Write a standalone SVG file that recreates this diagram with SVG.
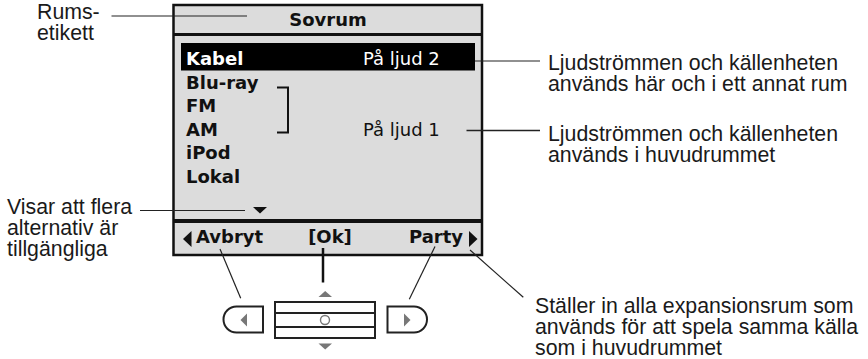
<svg xmlns="http://www.w3.org/2000/svg" width="868" height="359" viewBox="0 0 868 359">
<style>
.lbl{font-family:"Liberation Sans",Arial,sans-serif;font-size:21.3px;fill:#1a1a1a}
.scr{font-family:"DejaVu Sans",Verdana,sans-serif;font-size:18px;fill:#111}
.b{font-weight:bold}
.ln{stroke:#222;stroke-width:1.2;fill:none}
.btn{stroke:#222;stroke-width:2;fill:#fff}
.gt{fill:#777}
</style>
<rect width="868" height="359" fill="#fff"/>
<g id="screen">
<rect x="173.5" y="5" width="308.5" height="250" fill="#dcdcdc" stroke="#111" stroke-width="2.5"/>
<line x1="173.5" y1="34.5" x2="482" y2="34.5" stroke="#111" stroke-width="3"/>
<line x1="173.5" y1="221" x2="482" y2="221" stroke="#111" stroke-width="4"/>
<text class="scr b" x="328" y="26" text-anchor="middle">Sovrum</text>
<rect x="181" y="43" width="294" height="27.5" fill="#000"/>
<text class="scr b" x="186" y="65" style="fill:#fff">Kabel</text>
<text class="scr" x="363" y="65" style="fill:#fff">På ljud 2</text>
<text class="scr b" x="186" y="89">Blu-ray</text>
<text class="scr b" x="186" y="112">FM</text>
<text class="scr b" x="186" y="136">AM</text>
<text class="scr" x="363" y="136">På ljud 1</text>
<text class="scr b" x="186" y="159">iPod</text>
<text class="scr b" x="186" y="183">Lokal</text>
<path d="M277 87.5H288V132.5H277" fill="none" stroke="#111" stroke-width="2"/>
<path d="M253 207H267L260 213.5Z" fill="#111"/>
<path d="M183 239L191.5 231V247Z" fill="#111"/>
<text class="scr b" x="196" y="243">Avbryt</text>
<text class="scr b" x="330" y="243" text-anchor="middle">[Ok]</text>
<text class="scr b" x="463" y="243" text-anchor="end">Party</text>
<path d="M477.5 239L469 231V247Z" fill="#111"/>
</g>
<g id="btn-left">
<path class="btn" d="M263 306.5H236.5A13 13 0 0 0 236.5 332.5H263Z"/>
<path class="gt" d="M240.5 320L247 313.5V326.5Z"/>
</g>
<g id="btn-center">
<rect class="btn" x="275" y="302" width="100" height="36"/>
<line x1="275" y1="313" x2="375" y2="313" stroke="#222" stroke-width="2"/>
<line x1="275" y1="327" x2="375" y2="327" stroke="#222" stroke-width="2"/>
<circle cx="325" cy="320" r="4.5" fill="#fff" stroke="#777" stroke-width="1.4"/>
<path class="gt" d="M318.5 297H332L325.2 291Z"/>
<path class="gt" d="M318.5 343.5H332L325.2 349.5Z"/>
</g>
<g id="btn-right">
<path class="btn" d="M387.5 306.5H414A13 13 0 0 1 414 332.5H387.5Z"/>
<path class="gt" d="M410.5 320L404 313.5V326.5Z"/>
</g>
<g id="labels">
<text class="lbl" x="37" y="19">Rums-</text>
<text class="lbl" x="37" y="40">etikett</text>
<text class="lbl" x="7" y="214">Visar att flera</text>
<text class="lbl" x="7" y="235">alternativ är</text>
<text class="lbl" x="7" y="256">tillgängliga</text>
<text class="lbl" x="548" y="70">Ljudströmmen och källenheten</text>
<text class="lbl" x="548" y="91">används här och i ett annat rum</text>
<text class="lbl" x="548" y="141">Ljudströmmen och källenheten</text>
<text class="lbl" x="548" y="162">används i huvudrummet</text>
<text class="lbl" x="535" y="313">Ställer in alla expansionsrum som</text>
<text class="lbl" x="535" y="334">används för att spela samma källa</text>
<text class="lbl" x="535" y="354.5">som i huvudrummet</text>
</g>
<g id="connectors">
<line class="ln" x1="111.5" y1="16" x2="247" y2="16"/>
<line class="ln" x1="475" y1="61" x2="540" y2="61"/>
<line class="ln" x1="466.5" y1="130.5" x2="540" y2="130.5" style="stroke-width:1.6"/>
<line class="ln" x1="140" y1="210.5" x2="245" y2="210.5"/>
<line class="ln" x1="220" y1="249" x2="240.7" y2="298.3"/>
<line x1="323" y1="248" x2="323" y2="282.5" stroke="#111" stroke-width="2.5"/>
<line class="ln" x1="435" y1="246.5" x2="409.3" y2="299.3"/>
<line class="ln" x1="470" y1="250" x2="523.3" y2="297.3"/>
</g>
</svg>
